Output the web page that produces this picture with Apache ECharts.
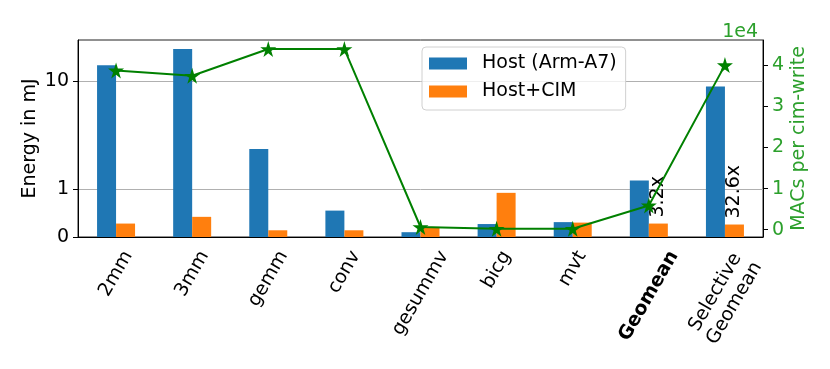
<!DOCTYPE html>
<html>
<head>
<meta charset="utf-8">
<script src="https://cdn.jsdelivr.net/npm/echarts@6/dist/echarts.min.js"></script>
<style>
  html, body { margin: 0; padding: 0; background: #fff; }
  #container { width: 830px; height: 369px; }
</style>
</head>
<body>
<div id="container"></div>
<script>
// data
var categories = ['2mm', '3mm', 'gemm', 'conv', 'gesummv', 'bicg', 'mvt', 'Geomean', 'Selective\nGeomean'];
var hostEnergy = [14.0, 19.8, 2.35, 0.55, 0.10, 0.27, 0.31, 1.20, 8.9];
var cimEnergy = [0.28, 0.42, 0.14, 0.14, 0.21, 0.92, 0.30, 0.28, 0.26];
var macsPerWrite = [38700, 37400, 43900, 43900, 660, 240, 240, 5900, 40000];
var speedupText = ['', '', '', '', '', '', '', '3.2x', '32.6x'];
var energyTicks = [0, 1, 10];
var macsTicks = [0, 10000, 20000, 30000, 40000];

var FONT = 'DejaVu Sans';
var FS = 19;
var LH = 22;
var BLUE = '#1f77b4', ORANGE = '#ff7f0e', LINE_GREEN = '#008000', LABEL_GREEN = '#2ca02c';

// symlog-like scale used by the left axis (linear below 1, log above)
var LIN = 48 / 108;
function symlog(v) {
    return v <= 1 ? v * LIN : LIN + Math.log10(v);
}

var ctx = document.createElement('canvas').getContext('2d');

// x tick labels: rotated 60deg, box centred under the tick (matplotlib style)
function renderTickLabel(params, api) {
    var i = api.value(0);
    var pt = api.coord([i, 0]);
    var name = categories[i];
    var bold = name === 'Geomean';
    ctx.font = (bold ? 'bold ' : '') + FS + 'px "' + FONT + '"';
    var lines = name.split('\n');
    var L = Math.max.apply(null, lines.map(function (s) { return ctx.measureText(s).width; }));
    var h = lines.length * LH;
    var H = 0.866 * L + 0.5 * h;
    return {
        type: 'text',
        x: pt[0],
        y: pt[1] + 10 + H / 2,
        rotation: Math.PI / 3,
        silent: true,
        style: {
            text: name,
            align: 'center',
            verticalAlign: 'middle',
            fontFamily: FONT,
            fontSize: FS,
            fontWeight: bold ? 'bold' : 'normal',
            lineHeight: LH,
            fill: '#000'
        }
    };
}

var star = 'path://M50,0 L61,35 L98,35 L68,57 L79,91 L50,70 L21,91 L32,57 L2,35 L39,35 Z';

var chart = echarts.init(document.getElementById('container'));
chart.setOption({
    animation: false,
    textStyle: { fontFamily: FONT },
    title: {
        text: '1e4',
        right: 67,
        top: 18,
        textStyle: { color: LABEL_GREEN, fontSize: FS, fontWeight: 'normal', fontFamily: FONT }
    },
    grid: {
        left: 78, right: 67, top: 40, bottom: 132,
        show: true, borderColor: '#222', borderWidth: 1
    },
    legend: {
        orient: 'vertical',
        left: 422, top: 47,
        padding: [7, 9, 9, 7],
        itemGap: 9,
        itemWidth: 38, itemHeight: 12,
        icon: 'rect',
        backgroundColor: 'rgba(255,255,255,0.8)',
        borderColor: '#d0d0d0', borderWidth: 1, borderRadius: 4,
        textStyle: { fontSize: FS, lineHeight: 19, color: '#000', padding: [0, 0, 0, 10] },
        data: ['Host (Arm-A7)', 'Host+CIM']
    },
    xAxis: {
        type: 'category',
        data: categories,
        axisLine: { lineStyle: { color: '#000' } },
        axisTick: { alignWithLabel: true, length: 5, lineStyle: { color: '#000' } },
        axisLabel: { show: false }
    },
    yAxis: [{
        type: 'value',
        min: 0,
        max: (237 - 40) / 108,
        name: 'Energy in mJ',
        nameLocation: 'middle',
        nameGap: 38,
        nameMoveOverlap: false,
        nameTextStyle: { fontSize: FS, color: '#000' },
        axisLine: { show: true, lineStyle: { color: '#000' } },
        axisTick: { show: true, length: 5, customValues: energyTicks.map(symlog), lineStyle: { color: '#000' } },
        axisLabel: {
            fontSize: FS, color: '#000', margin: 9,
            customValues: energyTicks.map(symlog),
            formatter: function (v) {
                for (var i = 0; i < energyTicks.length; i++) {
                    if (Math.abs(symlog(energyTicks[i]) - v) < 1e-6) return String(energyTicks[i]);
                }
                return '';
            }
        },
        splitLine: { show: true, lineStyle: { color: '#b0b0b0', width: 1 } }
    }, {
        type: 'value',
        min: -1770,
        max: 46100,
        position: 'right',
        name: 'MACs per cim-write',
        nameLocation: 'middle',
        nameGap: 27,
        nameMoveOverlap: false,
        nameRotate: 90,
        nameTextStyle: { fontSize: FS, color: LABEL_GREEN },
        axisLine: { show: true, lineStyle: { color: '#000' } },
        axisTick: { show: true, length: 5, customValues: macsTicks, lineStyle: { color: '#000' } },
        axisLabel: {
            fontSize: FS, color: LABEL_GREEN, margin: 9,
            customValues: macsTicks,
            formatter: function (v) { return String(Math.round(v / 10000)); }
        },
        splitLine: { show: false }
    }],
    series: [{
        name: 'Host (Arm-A7)',
        type: 'bar',
        barWidth: 19,
        barGap: '0%',
        itemStyle: { color: BLUE },
        data: hostEnergy.map(symlog)
    }, {
        name: 'Host+CIM',
        type: 'bar',
        barWidth: 19,
        barGap: '0%',
        itemStyle: { color: ORANGE },
        label: {
            show: true,
            position: 'top',
            rotate: 90,
            align: 'left',
            verticalAlign: 'middle',
            distance: 6,
            fontSize: FS,
            color: '#000',
            formatter: function (p) { return speedupText[p.dataIndex]; }
        },
        data: cimEnergy.map(symlog)
    }, {
        name: 'MACs',
        type: 'line',
        yAxisIndex: 1,
        symbol: star,
        symbolSize: 16,
        z: 5,
        lineStyle: { color: LINE_GREEN, width: 2 },
        itemStyle: { color: LINE_GREEN },
        data: macsPerWrite
    }, {
        name: 'tickLabels',
        type: 'custom',
        yAxisIndex: 0,
        silent: true,
        clip: false,
        renderItem: renderTickLabel,
        encode: { x: 0, y: 1 },
        data: categories.map(function (c, i) { return [i, 0]; })
    }]
});
</script>
</body>
</html>
